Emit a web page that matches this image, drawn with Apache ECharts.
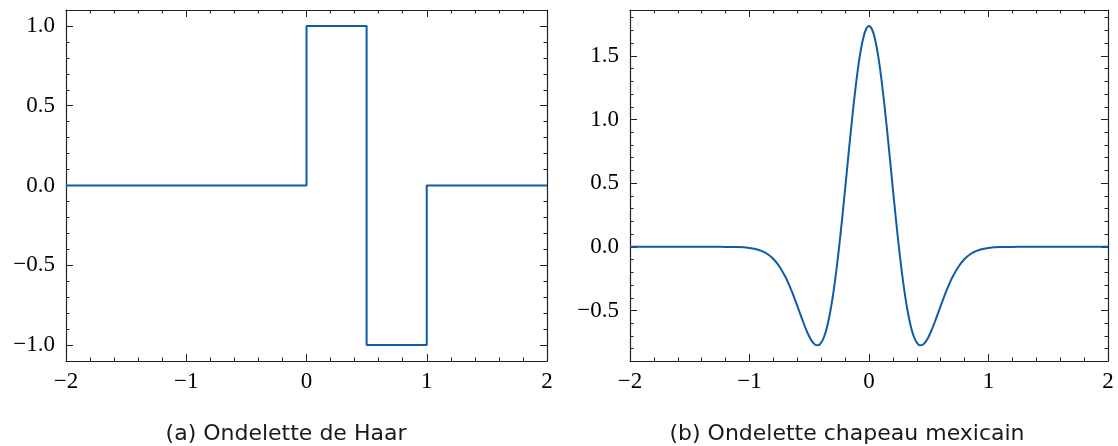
<!DOCTYPE html>
<html><head><meta charset="utf-8">
<script src="https://cdn.jsdelivr.net/npm/echarts@6/dist/echarts.min.js"></script>
<style>html,body{margin:0;padding:0;background:#fff}#c{width:1118px;height:446px}</style>
</head><body><div id="c"></div>
<script>
// Haar wavelet (step points)
const haarX = [-2, 0, 0, 0.5, 0.5, 1, 1, 2];
const haarY = [0, 0, 1, 1, -1, -1, 0, 0];
// Mexican hat wavelet
const hatX = [-2,-1.8,-1.6,-1.4,-1.3,-1.2,-1.1,-1.0,-0.95,-0.9,-0.85,-0.8,-0.75,-0.7,-0.675,-0.65,-0.625,-0.6,-0.575,-0.55,-0.525,-0.5,-0.475,-0.45,-0.425,-0.4,-0.375,-0.35,-0.325,-0.3,-0.275,-0.25,-0.225,-0.2,-0.175,-0.15,-0.125,-0.1,-0.075,-0.05,-0.025,0,
0.025,0.05,0.075,0.1,0.125,0.15,0.175,0.2,0.225,0.25,0.275,0.3,0.325,0.35,0.375,0.4,0.425,0.45,0.475,0.5,0.525,0.55,0.575,0.6,0.625,0.65,0.675,0.7,0.75,0.8,0.85,0.9,0.95,1.0,1.1,1.2,1.3,1.4,1.6,1.8,2];
const hatY = [0,0,0,0,0,-0.0004,-0.0020,-0.0087,-0.0171,-0.0318,-0.0566,-0.0958,-0.1542,-0.2354,-0.2851,-0.3399,-0.4003,-0.4634,-0.5285,-0.5923,-0.6526,-0.7044,-0.7449,-0.7691,-0.7729,-0.7524,-0.7042,-0.6251,-0.5143,-0.3716,-0.1990,0,0.2199,0.4535,0.6926,0.9275,1.1484,1.3453,1.5094,1.6326,1.709,1.735,
1.709,1.6326,1.5094,1.3453,1.1484,0.9275,0.6926,0.4535,0.2199,0,-0.1990,-0.3716,-0.5143,-0.6251,-0.7042,-0.7524,-0.7729,-0.7691,-0.7449,-0.7044,-0.6526,-0.5923,-0.5285,-0.4634,-0.4003,-0.3399,-0.2851,-0.2354,-0.1542,-0.0958,-0.0566,-0.0318,-0.0171,-0.0087,-0.0020,-0.0004,0,0,0,0,0];
const xTicks = [-2, -1, 0, 1, 2];
const haarYTicks = [-1.0, -0.5, 0.0, 0.5, 1.0];
const haarYMinor = [-1.1,-0.9,-0.8,-0.7,-0.6,-0.4,-0.3,-0.2,-0.1,0.1,0.2,0.3,0.4,0.6,0.7,0.8,0.9,1.1];
const hatYTicks = [-0.5, 0.0, 0.5, 1.0, 1.5];
const hatYMinor = [-0.8,-0.7,-0.6,-0.4,-0.3,-0.2,-0.1,0.1,0.2,0.3,0.4,0.6,0.7,0.8,0.9,1.1,1.2,1.3,1.4,1.6,1.7,1.8];
const haarRange = [-1.1, 1.1];
const hatRange = [-0.8968, 1.8604];
const captions = ['(a) Ondelette de Haar', '(b) Ondelette chapeau mexicain'];

const serif = '"Liberation Serif", "DejaVu Serif", serif';
const sans = '"DejaVu Sans", "Open Sans", sans-serif';
const axCol = '#222';
const fmt = v => String(v).replace('-', '\u2212');
const fmt1 = v => (Math.abs(v) < 1e-9 ? 0 : v).toFixed(1).replace('-', '\u2212');

function xAx(grid, pos, show) {
  return {
    type: 'value', gridIndex: grid, position: pos, min: xTicks[0], max: xTicks[xTicks.length - 1], interval: 1,
    axisLine: { show: true, onZero: false, lineStyle: { color: axCol, width: 1.2 } },
    axisTick: { show: true, inside: true, length: 7, lineStyle: { color: axCol, width: 1 } },
    minorTick: { show: true, splitNumber: 5, length: 3.5, lineStyle: { color: axCol, width: 1 } },
    splitLine: { show: false },
    axisLabel: { show: show, formatter: fmt, fontFamily: serif, fontSize: 23, color: '#000', margin: 9 }
  };
}
function yAx(grid, pos, show, range, ticks) {
  return {
    type: 'value', gridIndex: grid, position: pos, min: range[0], max: range[1],
    axisLine: { show: true, onZero: false, lineStyle: { color: axCol, width: 1.2 } },
    axisTick: { show: true, inside: true, length: 7, customValues: ticks, lineStyle: { color: axCol, width: 1 } },
    splitLine: { show: false },
    axisLabel: { show: show, customValues: ticks, formatter: fmt1, fontFamily: serif, fontSize: 23, color: '#000', margin: 11 }
  };
}
function yMinor(grid, pos, range, ticks) {
  return {
    type: 'value', gridIndex: grid, position: pos, min: range[0], max: range[1],
    axisLine: { show: false, onZero: false },
    axisTick: { show: true, inside: true, length: 3.5, customValues: ticks, lineStyle: { color: axCol, width: 1 } },
    splitLine: { show: false },
    axisLabel: { show: false }
  };
}
const chart = echarts.init(document.getElementById('c'), null, { renderer: 'canvas' });
chart.setOption({
  animation: false,
  grid: [
    { left: 66, right: 571, top: 10, bottom: 85 },
    { left: 630, right: 10, top: 10, bottom: 85 }
  ],
  title: [
    { text: captions[0], left: 281, top: 418, textAlign: 'center', textStyle: { fontFamily: sans, fontSize: 22, fontWeight: 'normal', color: '#1a1a1a' } },
    { text: captions[1], left: 842, top: 418, textAlign: 'center', textStyle: { fontFamily: sans, fontSize: 22, fontWeight: 'normal', color: '#1a1a1a' } }
  ],
  xAxis: [xAx(0, 'bottom', true), xAx(0, 'top', false), xAx(1, 'bottom', true), xAx(1, 'top', false)],
  yAxis: [
    yAx(0, 'left', true, haarRange, haarYTicks), yAx(0, 'right', false, haarRange, haarYTicks),
    yAx(1, 'left', true, hatRange, hatYTicks), yAx(1, 'right', false, hatRange, hatYTicks),
    yMinor(0, 'left', haarRange, haarYMinor), yMinor(0, 'right', haarRange, haarYMinor),
    yMinor(1, 'left', hatRange, hatYMinor), yMinor(1, 'right', hatRange, hatYMinor)
  ],
  series: [
    { type: 'line', xAxisIndex: 0, yAxisIndex: 0, showSymbol: false, data: haarX.map((x, i) => [x, haarY[i]]),
      lineStyle: { color: '#0C5DA5', width: 2 } },
    { type: 'line', xAxisIndex: 2, yAxisIndex: 2, showSymbol: false, smooth: 0.3, data: hatX.map((x, i) => [x, hatY[i]]),
      lineStyle: { color: '#0C5DA5', width: 2 } }
  ]
});
</script></body></html>
